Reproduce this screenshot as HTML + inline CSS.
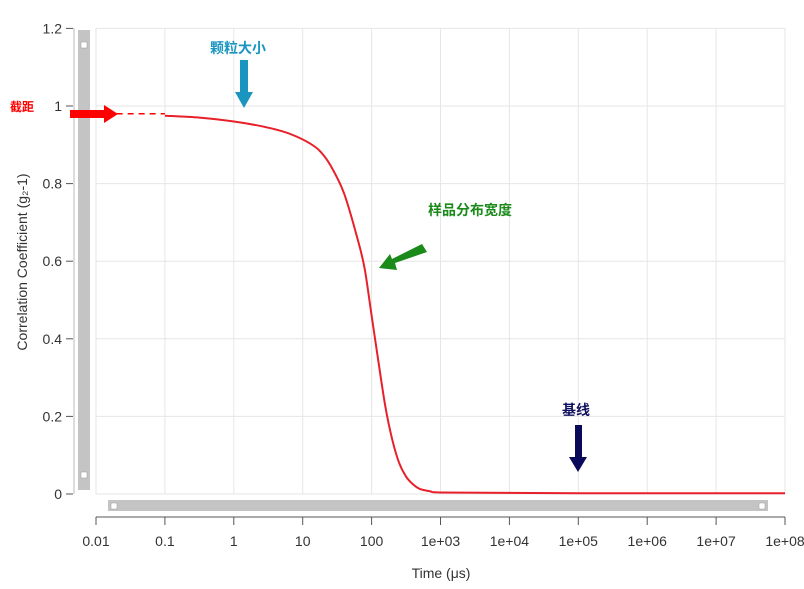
<!DOCTYPE html>
<html><head><meta charset="utf-8"><style>
body{margin:0;background:#fff;}
svg{display:block;font-family:"Liberation Sans","Noto Sans CJK SC",sans-serif;}
</style></head><body>
<svg id="chart" width="804" height="589" viewBox="0 0 804 589">
<g id="grid"></g>
<g id="axes"></g>
<rect x="78" y="30" width="12" height="460" fill="#c4c4c4"/>
<rect x="81" y="42" width="6" height="6" fill="#fff" stroke="#999" stroke-width="0.5"/>
<rect x="81" y="472" width="6" height="6" fill="#fff" stroke="#999" stroke-width="0.5"/>
<rect x="108" y="500" width="660" height="11" fill="#c4c4c4"/>
<rect x="111" y="503" width="6" height="6" fill="#fff" stroke="#999" stroke-width="0.5"/>
<rect x="759" y="503" width="6" height="6" fill="#fff" stroke="#999" stroke-width="0.5"/>
<path id="curve" fill="none" stroke="#e8202a" stroke-width="2"/>
<line id="dash" stroke="#ff0000" stroke-width="1.5" stroke-dasharray="6,5"/>
<text x="10" y="111" font-size="12" font-weight="bold" fill="#ff0000">截距</text>
<polygon points="70,110 104,110 104,105 118,114 104,123 104,118 70,118" fill="#ff0000"/>
<text x="210" y="53" font-size="14" font-weight="bold" fill="#1a95c0">颗粒大小</text>
<polygon points="240,60 248,60 248,92 253,92 244,108 235,92 240,92" fill="#1a95c0"/>
<text x="428" y="215" font-size="14" font-weight="bold" fill="#1a8a1a">样品分布宽度</text>
<polygon points="422,244 427,252 395,263 397,270 379,268 390,254 392,259" fill="#1a8a1a"/>
<text x="562" y="415" font-size="14" font-weight="bold" fill="#101060">基线</text>
<polygon points="575,425 582,425 582,457 587,457 578,472 569,457 575,457" fill="#0a0a5a"/>
<text x="441" y="578" font-size="14" text-anchor="middle" fill="#333">Time (μs)</text>
<text transform="translate(27,262) rotate(-90)" font-size="14" text-anchor="middle" fill="#333">Correlation Coefficient (g₂-1)</text>
</svg>
<script>
const xTickLabels=["0.01","0.1","1","10","100","1e+03","1e+04","1e+05","1e+06","1e+07","1e+08"];
const yTickValues=[0,0.2,0.4,0.6,0.8,1,1.2];
const yTickLabels=["0","0.2","0.4","0.6","0.8","1","1.2"];
const logTime=[-1,-0.5,0,0.4,0.7,0.9,1.1,1.25,1.4,1.6,1.8,1.9,2.0,2.1,2.2,2.3,2.4,2.5,2.6,2.7,2.85,3,4,5,6,7,8];
const g2=[0.975,0.97,0.96,0.948,0.935,0.922,0.904,0.884,0.848,0.775,0.655,0.58,0.46,0.34,0.225,0.14,0.08,0.045,0.025,0.013,0.007,0.004,0.003,0.002,0.002,0.002,0.002];
const intercept=0.98;
const ns="http://www.w3.org/2000/svg";
const X=l=>96+(l+2)*68.9;
const Y=v=>494-v*388;
function mk(t,a,p){const e=document.createElementNS(ns,t);for(const k in a)e.setAttribute(k,a[k]);p.appendChild(e);return e;}
const grid=document.getElementById('grid'),axes=document.getElementById('axes');
xTickLabels.forEach((s,i)=>{const x=X(i-2);
 const gl=mk('line',{x1:x,x2:x,y1:28,y2:494,stroke:'#e6e6e6','stroke-width':1},grid);
 
 const tk=mk('line',{x1:x,x2:x,y1:517,y2:525,stroke:'#555'},axes);
 
 const t=mk('text',{x:x,y:546,'font-size':14,'text-anchor':'middle',fill:'#333'},axes);t.textContent=s;
 });
yTickValues.forEach((v,i)=>{const y=Y(v);
 const gl=mk('line',{x1:96,x2:785,y1:y,y2:y,stroke:'#e6e6e6','stroke-width':1},grid);
 
 const tk=mk('line',{x1:66,x2:73,y1:y,y2:y,stroke:'#555'},axes);
 
 const t=mk('text',{x:62,y:y+5,'font-size':14,'text-anchor':'end',fill:'#333'},axes);t.textContent=yTickLabels[i];
 });
const xa=mk('line',{x1:96,x2:785,y1:517,y2:517,stroke:'#555'},axes);

const ya=mk('line',{x1:74,x2:74,y1:28,y2:494,stroke:'#bbb'},axes);

const pts=logTime.map((l,i)=>[X(l),Y(g2[i])]);
let d='M'+pts[0][0]+','+pts[0][1];
for(let i=0;i<pts.length-1;i++){const p0=pts[Math.max(0,i-1)],p1=pts[i],p2=pts[i+1],p3=pts[Math.min(pts.length-1,i+2)];
 const c1=[p1[0]+(p2[0]-p0[0])/6,p1[1]+(p2[1]-p0[1])/6],c2=[p2[0]-(p3[0]-p1[0])/6,p2[1]-(p3[1]-p1[1])/6];
 d+=` C${c1[0]},${c1[1]} ${c2[0]},${c2[1]} ${p2[0]},${p2[1]}`;}
document.getElementById('curve').setAttribute('d',d);
const dl=document.getElementById('dash');
dl.setAttribute('x1',X(-1.7));dl.setAttribute('x2',X(-1));dl.setAttribute('y1',Y(intercept));dl.setAttribute('y2',Y(intercept));
</script>
</body></html>
